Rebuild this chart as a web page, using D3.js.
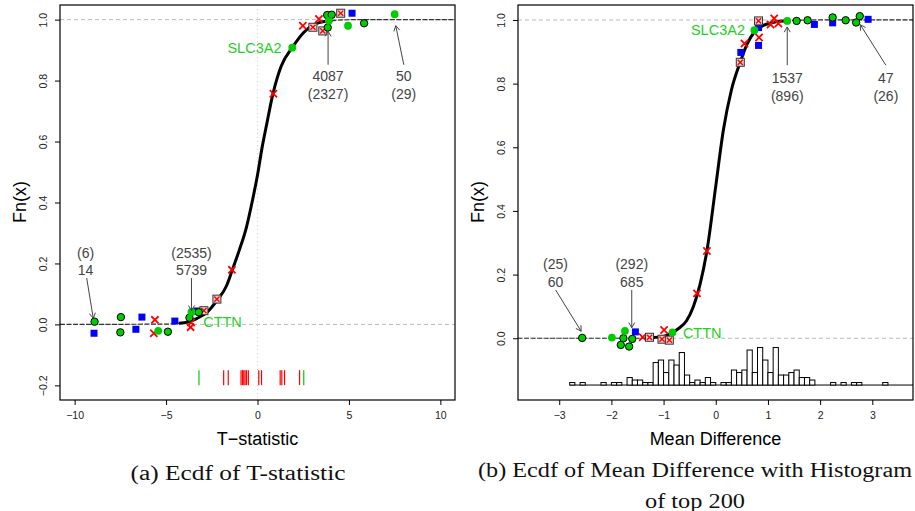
<!DOCTYPE html>
<html>
<head>
<meta charset="utf-8">
<script src="https://cdn.jsdelivr.net/npm/d3@7"></script>
<style>
  body { margin: 0; background: #fff; }
  svg { display: block; font-family: "Liberation Sans", Arial, sans-serif; }
</style>
</head>
<body>
<svg id="chart" width="915" height="511"></svg>
<script>
// ---------- panel (a): T-statistic ----------
const tCurve = [[-10.8, 0], [-5, 0.001], [-4.3, 0.004], [-3.8, 0.008], [-3.3, 0.02], [-2.8, 0.038],
  [-2.2, 0.08], [-1.7, 0.126], [-1.4, 0.175], [-1, 0.243], [-0.62, 0.315], [-0.3, 0.4], [0, 0.49],
  [0.25, 0.58], [0.48, 0.65], [0.85, 0.758], [1.3, 0.848], [1.9, 0.908], [2.5, 0.956], [3.2, 0.987],
  [4.1, 0.997], [5.5, 1], [10.8, 1]];
const tRings = [[-8.91, 0.009], [-7.47, 0.024], [-7.5, -0.026], [-4.9, -0.024], [-3.72, 0.022],
  [-3.21, 0.04], [3.84, 0.974], [3.81, 1.015], [4.06, 1.016], [5.83, 0.988]];
const tDots = [[-5.43, -0.021], [-3.61, 0.041], [1.9, 0.908], [3.9, 0.996], [4.95, 0.98], [7.5, 1.018]];
const tSquares = [[-8.94, -0.029], [-6.32, 0.024], [-6.65, -0.016], [-4.52, 0.011], [-3.32, 0.044], [5.17, 1.021]];
const tCrosses = [[-5.61, 0.015], [-5.67, -0.029], [-3.63, 0.006], [-3.66, -0.009], [-1.4, 0.179],
  [0.87, 0.757], [2.48, 0.98], [3.36, 1.002]];
const tBoxes = [[-2.93, 0.045], [-2.22, 0.083], [3.03, 0.975], [3.57, 0.963], [4.55, 1.021]];
const tRugGreen = [-3.2, 2.53];
const tRugRed = [-1.85, -1.6, -0.9, -0.82, -0.75, -0.68, -0.6, -0.5, 0.07, 0.22, 1.24, 1.33, 1.48, 2.3];
// annotation: text lines, text anchor (x, F), arrow from -> to
const tNotes = [
  { lines: ['(6)', '14'], at: [-9.4, 0.235], from: [-9.34, 0.152], to: [-8.98, 0.02] },
  { lines: ['(2535)', '5739'], at: [-3.61, 0.235], from: [-3.61, 0.152], to: [-3.61, 0.045] },
  { lines: ['4087', '(2327)'], at: [3.86, 0.815], from: [3.86, 0.852], to: [3.86, 0.962] },
  { lines: ['50', '(29)'], at: [8.0, 0.815], from: [8.0, 0.852], to: [7.56, 0.98] }
];
const tGenes = [{ name: 'SLC3A2', at: [1.31, 0.908], anchor: 'end' }, { name: 'CTTN', at: [-2.97, 0.009], anchor: 'start' }];
const tTicksX = [-10, -5, 0, 5, 10];
const tTicksY = [-0.2, 0, 0.2, 0.4, 0.6, 0.8, 1.0];

// ---------- panel (b): Mean Difference ----------
const mCurve = [[-3.8, 0], [-1.5, 0], [-1.2, 0.002], [-1, 0.006], [-0.83, 0.018], [-0.72, 0.03],
  [-0.56, 0.055], [-0.43, 0.099], [-0.3, 0.17], [-0.17, 0.274], [0, 0.478], [0.146, 0.654],
  [0.3, 0.78], [0.47, 0.868], [0.6, 0.924], [0.74, 0.962], [0.9, 0.982], [1.1, 0.992], [1.4, 0.998],
  [2, 1], [3.8, 1]];
const mRings = [[-2.56, 0.001], [-1.77, 0], [-1.82, -0.021], [-1.66, -0.026], [-1.6, -0.002],
  [1.55, 0.997], [1.76, 0.999], [2.24, 1.008], [2.49, 0.999], [2.69, 0.992], [2.76, 1.012]];
const mDots = [[-1.99, 0.002], [-1.74, 0.023], [-0.83, 0.018], [0.74, 0.968], [1.37, 0.997]];
const mSquares = [[-1.54, 0.02], [0.48, 0.898], [0.82, 0.976], [0.82, 0.92], [1.89, 0.986], [2.24, 0.991], [2.92, 1.002]];
const mCrosses = [[-1.4, 0.003], [-0.99, 0.026], [-0.36, 0.141], [-0.17, 0.274], [0.55, 0.926],
  [0.83, 0.945], [1.05, 0.986], [1.12, 1.005], [1.2, 0.989]];
const mBoxes = [[-1.27, 0.003], [-1.03, -0.003], [-0.89, -0.006], [0.47, 0.867], [0.82, 0.997]];
const mNotes = [
  { lines: ['(25)', '60'], at: [-3.07, 0.233], from: [-3.07, 0.152], to: [-2.58, 0.022] },
  { lines: ['(292)', '685'], at: [-1.61, 0.233], from: [-1.61, 0.152], to: [-1.61, 0.033] },
  { lines: ['1537', '(896)'], at: [1.37, 0.817], from: [1.37, 0.858], to: [1.37, 0.978] },
  { lines: ['47', '(26)'], at: [3.26, 0.817], from: [3.26, 0.858], to: [2.77, 0.985] }
];
const mGenes = [{ name: 'SLC3A2', at: [0.56, 0.968], anchor: 'end' }, { name: 'CTTN', at: [-0.63, 0.018], anchor: 'start' }];
// histogram of top 200, bins of 0.1 starting at -2.8
const histStart = -2.8;
const histWidth = 0.1;
const histCounts = [1, 0, 1, 0, 0, 0, 1, 0, 1, 1, 0, 3, 2, 2, 1, 1, 9, 10, 5, 10, 8, 13, 4, 1, 2, 1, 3, 1, 0,
  1, 1, 6, 5, 6, 14, 5, 15, 10, 5, 15, 4, 4, 5, 6, 3, 3, 2, 0, 0, 0, 1, 0, 1, 0, 1, 1, 0, 0, 0, 0, 1,
  0, 0, 0, 0, 0, 0];
const mTicksX = [-3, -2, -1, 0, 1, 2, 3];
const mTicksY = [0, 0.2, 0.4, 0.6, 0.8, 1.0];

const svg = d3.select('#chart');
const GREEN = '#00cd00';
const LABEL_GREEN = '#1fd01f';
const NOTE = '#444';

function drawPanel(p) {
  const g = svg.append('g');
  const x = p.x, y = p.y;
  const [x0, x1] = x.range();
  const [y1, y0] = y.range();

  const clipId = 'clip' + p.id;
  svg.append('clipPath').attr('id', clipId)
    .append('rect').attr('x', x0).attr('y', y0).attr('width', x1 - x0).attr('height', y1 - y0);
  const plot = g.append('g').attr('clip-path', `url(#${clipId})`);

  // reference lines
  [0, 1].forEach(v => {
    plot.append('line')
      .attr('x1', x0).attr('x2', x1).attr('y1', y(v)).attr('y2', y(v))
      .attr('stroke', '#bbb').attr('stroke-width', 1).attr('stroke-dasharray', '4,3');
  });
  if (p.vline) {
    plot.append('line')
      .attr('x1', x(0)).attr('x2', x(0)).attr('y1', y0).attr('y2', y1)
      .attr('stroke', '#ccc').attr('stroke-width', 1).attr('stroke-dasharray', '1,3');
  }

  // histogram
  if (p.hist) {
    const h = d3.scaleLinear().domain([0, 15]).range([y(-0.147), y(-0.147) - 37.5]);
    plot.append('line')
      .attr('x1', x(histStart)).attr('x2', x(histStart + histCounts.length * histWidth))
      .attr('y1', h(0)).attr('y2', h(0))
      .attr('stroke', '#000').attr('stroke-width', 1);
    plot.selectAll('rect.bar')
      .data(histCounts)
      .enter().append('rect')
      .attr('class', 'bar')
      .attr('x', (d, i) => x(histStart + i * histWidth))
      .attr('width', x(histWidth) - x(0))
      .attr('y', d => h(d))
      .attr('height', d => h(0) - h(d))
      .attr('fill', '#fff').attr('stroke', '#000').attr('stroke-width', 1);
  }

  // rug
  if (p.rug) {
    const rug = (vals, col) => plot.selectAll(null).data(vals).enter().append('line')
      .attr('x1', d => x(d)).attr('x2', d => x(d))
      .attr('y1', y(-0.15)).attr('y2', y(-0.15) + 15)
      .attr('stroke', col).attr('stroke-width', 1.2);
    rug(p.rug.red, '#ff0000');
    rug(p.rug.green, GREEN);
  }

  // ecdf
  const line = d3.line().x(d => x(d[0])).y(d => y(d[1])).curve(d3.curveMonotoneX);
  plot.append('path').attr('d', line(p.curve))
    .attr('fill', 'none').attr('stroke', '#333').attr('stroke-width', 1.2)
    .attr('stroke-dasharray', '5,1.5');
  plot.append('path').attr('d', line(p.curve.filter(d => d[1] > 0.001 && d[1] < 0.999)))
    .attr('fill', 'none').attr('stroke', '#000').attr('stroke-width', 3);

  // annotations
  p.notes.forEach(n => {
    const tx = x(n.at[0]), ty = y(n.at[1]);
    n.lines.forEach((s, i) => {
      g.append('text').attr('x', tx).attr('y', ty + 5 + i * 17.5)
        .attr('text-anchor', 'middle').attr('font-size', 14).attr('fill', NOTE).text(s);
    });
    const ax1 = x(n.from[0]), ay1 = y(n.from[1]), ax2 = x(n.to[0]), ay2 = y(n.to[1]);
    const a = Math.atan2(ay2 - ay1, ax2 - ax1);
    const L = 6, w = Math.PI / 6;
    g.append('path')
      .attr('d', `M${ax1},${ay1}L${ax2},${ay2}` +
        `M${ax2 - L * Math.cos(a - w)},${ay2 - L * Math.sin(a - w)}L${ax2},${ay2}` +
        `L${ax2 - L * Math.cos(a + w)},${ay2 - L * Math.sin(a + w)}`)
      .attr('fill', 'none').attr('stroke', NOTE).attr('stroke-width', 1);
  });

  // points
  const pts = plot.append('g');
  pts.selectAll(null).data(p.squares).enter().append('rect')
    .attr('x', d => x(d[0]) - 3.5).attr('y', d => y(d[1]) - 3.5)
    .attr('width', 7).attr('height', 7).attr('fill', '#0000ff');
  const cross = s => `M${-s},${-s}L${s},${s}M${-s},${s}L${s},${-s}`;
  pts.selectAll(null).data(p.crosses).enter().append('path')
    .attr('transform', d => `translate(${x(d[0])},${y(d[1])})`)
    .attr('d', cross(3.6)).attr('stroke', '#ff0000').attr('stroke-width', 1.8).attr('fill', 'none');
  const boxes = pts.selectAll(null).data(p.boxes).enter().append('g')
    .attr('transform', d => `translate(${x(d[0])},${y(d[1])})`);
  boxes.append('rect').attr('x', -4).attr('y', -4).attr('width', 8).attr('height', 8)
    .attr('fill', '#f3d3d3').attr('stroke', '#333').attr('stroke-width', 1);
  boxes.append('path').attr('d', cross(2.6)).attr('stroke', '#ff0000').attr('stroke-width', 1.4);
  pts.selectAll(null).data(p.rings).enter().append('circle')
    .attr('cx', d => x(d[0])).attr('cy', d => y(d[1])).attr('r', 3.7)
    .attr('fill', GREEN).attr('stroke', '#000').attr('stroke-width', 1);
  pts.selectAll(null).data(p.dots).enter().append('circle')
    .attr('cx', d => x(d[0])).attr('cy', d => y(d[1])).attr('r', 3.9)
    .attr('fill', GREEN);

  p.genes.forEach(gn => {
    g.append('text').attr('x', x(gn.at[0])).attr('y', y(gn.at[1]) + 5)
      .attr('text-anchor', gn.anchor).attr('font-size', 14.5).attr('fill', LABEL_GREEN).text(gn.name);
  });

  // axes
  const ax = g.append('g').attr('transform', `translate(0,${y1})`)
    .call(d3.axisBottom(x).tickValues(p.ticksX).tickSize(5).tickPadding(7).tickFormat(d3.format('d')));
  ax.select('.domain').remove();
  ax.selectAll('text').attr('font-size', 10.5).attr('font-family', '"Liberation Sans", Arial, sans-serif').attr('fill', '#222');

  const ay = g.append('g').attr('transform', `translate(${x0},0)`)
    .call(d3.axisLeft(y).tickValues(p.ticksY).tickSize(5).tickFormat(d3.format('.1f')));
  ay.select('.domain').remove();
  ay.selectAll('text')
    .attr('x', 0).attr('dy', 0)
    .attr('transform', 'translate(-13,0) rotate(-90)')
    .attr('text-anchor', 'middle')
    .attr('font-size', 10.5).attr('font-family', '"Liberation Sans", Arial, sans-serif').attr('fill', '#222');

  g.append('rect').attr('x', x0).attr('y', y0).attr('width', x1 - x0).attr('height', y1 - y0)
    .attr('fill', 'none').attr('stroke', '#000').attr('stroke-width', 1.2);

  g.append('text').attr('x', (x0 + x1) / 2).attr('y', 444.5).attr('text-anchor', 'middle')
    .attr('font-size', 18).attr('fill', '#000').text(p.xTitle);
  g.append('text').attr('transform', `translate(${x0 - 34},${202}) rotate(-90)`)
    .attr('text-anchor', 'middle').attr('font-size', 18).attr('fill', '#000').text('Fn(x)');

  p.caption.forEach(c => {
    g.append('text').attr('x', c.cx).attr('y', c.y).attr('text-anchor', 'middle')
      .attr('font-family', '"Liberation Serif", "DejaVu Serif", serif').attr('font-size', 20)
      .attr('textLength', c.len).attr('lengthAdjust', 'spacingAndGlyphs')
      .attr('fill', '#111').text(c.text);
  });
}

drawPanel({
  id: 'a',
  x: d3.scaleLinear().domain([-10.8, 10.8]).range([60, 455]),
  y: d3.scaleLinear().domain([-0.248, 1.048]).range([400, 5]),
  curve: tCurve, rings: tRings, dots: tDots, squares: tSquares, crosses: tCrosses, boxes: tBoxes,
  notes: tNotes, genes: tGenes, ticksX: tTicksX, ticksY: tTicksY,
  rug: { red: tRugRed, green: tRugGreen }, vline: true,
  xTitle: 'T\u2212statistic',
  caption: [{ text: '(a) Ecdf of T-statistic', cx: 238, y: 480, len: 215 }]
});

drawPanel({
  id: 'b',
  x: d3.scaleLinear().domain([-3.79, 3.78]).range([518, 913]),
  y: d3.scaleLinear().domain([-0.194, 1.047]).range([400, 5]),
  curve: mCurve, rings: mRings, dots: mDots, squares: mSquares, crosses: mCrosses, boxes: mBoxes,
  notes: mNotes, genes: mGenes, ticksX: mTicksX, ticksY: mTicksY,
  hist: true,
  xTitle: 'Mean Difference',
  caption: [{ text: '(b) Ecdf of Mean Difference with Histogram', cx: 695, y: 477, len: 434 },
            { text: 'of top 200', cx: 695, y: 508, len: 100 }]
});
</script>
</body>
</html>
